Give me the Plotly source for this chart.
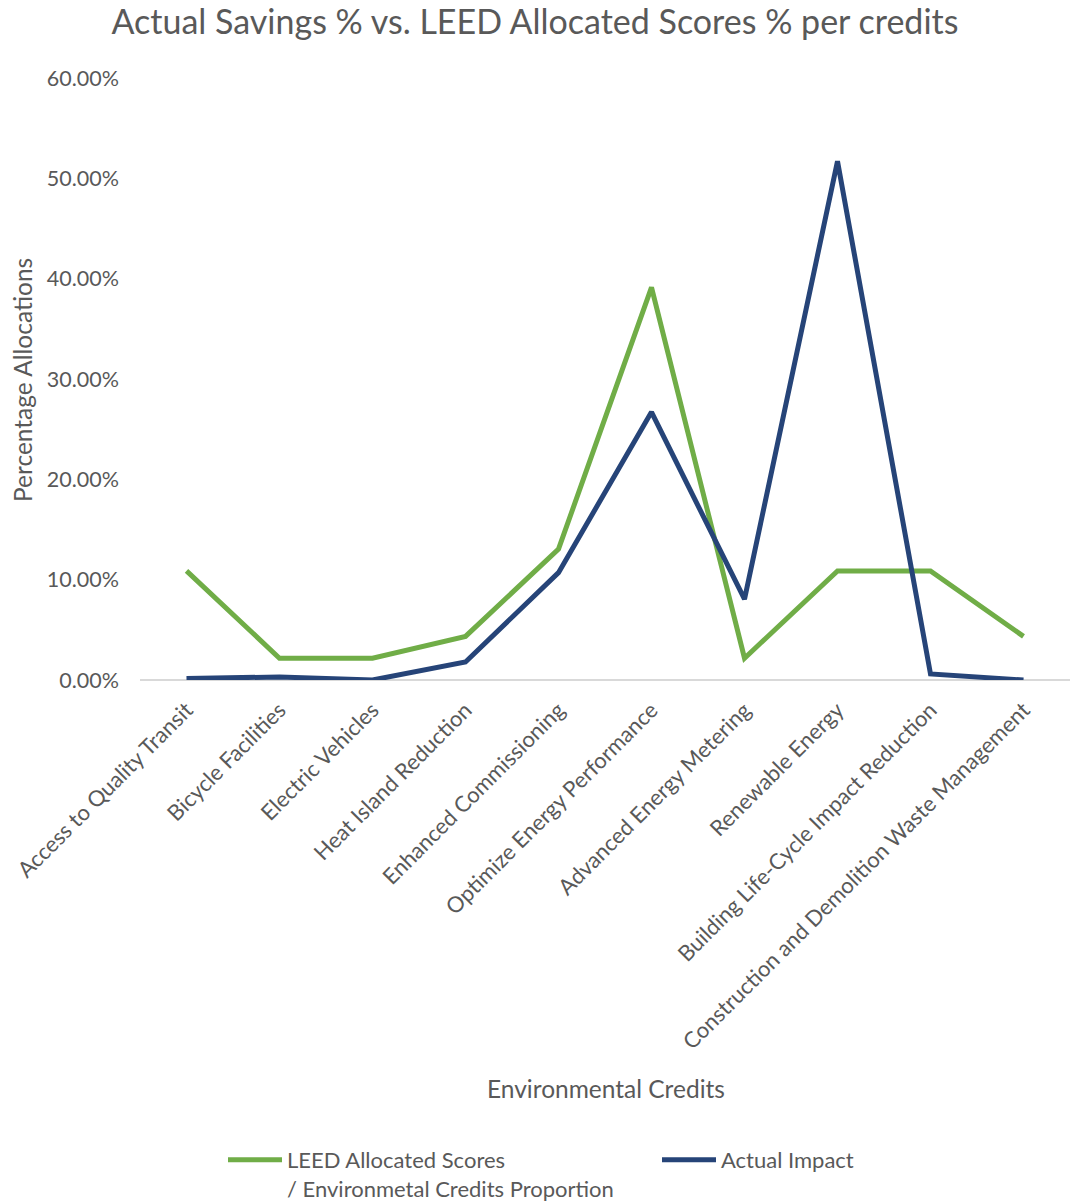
import plotly.graph_objects as go

categories = [
    "Access to Quality Transit",
    "Bicycle Facilities",
    "Electric Vehicles",
    "Heat Island Reduction",
    "Enhanced Commissioning",
    "Optimize Energy Performance",
    "Advanced Energy Metering",
    "Renewable Energy",
    "Building Life-Cycle Impact Reduction",
    "Construction and Demolition Waste Management",
]
leed_allocated = [0.1087, 0.0217, 0.0217, 0.0435, 0.1304, 0.3913, 0.0217, 0.1087, 0.1087, 0.0435]
actual_impact = [0.0015, 0.0030, 0.0000, 0.0180, 0.1070, 0.2670, 0.0805, 0.5170, 0.0060, 0.0000]
y_ticks = [0, 0.1, 0.2, 0.3, 0.4, 0.5, 0.6]
y_tick_labels = ["0.00%", "10.00%", "20.00%", "30.00%", "40.00%", "50.00%", "60.00%"]

GREEN = "#70ad47"
BLUE = "#264478"
TXT = "#595959"
FONT = "Lato"

fig = go.Figure()
fig.add_trace(go.Scatter(
    x=categories, y=leed_allocated, mode="lines",
    name="LEED Allocated Scores<br>/ Environmetal Credits Proportion",
    line=dict(color=GREEN, width=5),
))
fig.add_trace(go.Scatter(
    x=categories, y=actual_impact, mode="lines",
    name="Actual Impact",
    line=dict(color=BLUE, width=5),
))

fig.update_layout(
    width=1070, height=1202,
    margin=dict(l=140, r=0, t=78, b=522, autoexpand=False),
    paper_bgcolor="white", plot_bgcolor="white",
    font=dict(family=FONT, color=TXT),
    title=dict(
        text="Actual Savings % vs. LEED Allocated Scores % per credits",
        x=0.5, xref="container", xanchor="center",
        y=1 - 22 / 1202, yref="container", yanchor="middle",
        font=dict(family=FONT, size=34, color=TXT),
        automargin=False,
    ),
    showlegend=True,
    legend=dict(
        orientation="h",
        x=(223 - 140) / 930, xanchor="left",
        y=(680 - 1139) / 602, yanchor="top",
        entrywidth=365, entrywidthmode="pixels",
        font=dict(family=FONT, size=22, color=TXT),
        itemwidth=54,
        valign="top",
    ),
)
fig.update_xaxes(
    type="category",
    range=[-0.5, 9.5],
    tickangle=-45,
    tickfont=dict(family=FONT, size=22, color=TXT),
    showgrid=False, showline=False, ticks="",
    ticklabelstandoff=12,
    automargin=False,
)
fig.update_yaxes(
    range=[0, 0.6],
    tickvals=y_ticks, ticktext=y_tick_labels,
    tickfont=dict(family=FONT, size=21.5, color=TXT),
    showgrid=False, zeroline=True, zerolinecolor="#d9d9d9", zerolinewidth=1.5,
    ticks="", showline=False,
    ticklabelstandoff=20,
    automargin=False,
)
fig.add_annotation(
    text="Percentage Allocations", textangle=-90,
    xref="paper", yref="paper",
    x=(22 - 140) / 930, y=(680 - 380) / 602,
    xanchor="center", yanchor="middle", showarrow=False,
    font=dict(family=FONT, size=24.5, color=TXT),
)
fig.add_annotation(
    text="Environmental Credits",
    xref="paper", yref="paper",
    x=(606 - 140) / 930, y=(680 - 1088) / 602,
    xanchor="center", yanchor="middle", showarrow=False,
    font=dict(family=FONT, size=24.5, color=TXT),
)

fig.write_html("out.html")
